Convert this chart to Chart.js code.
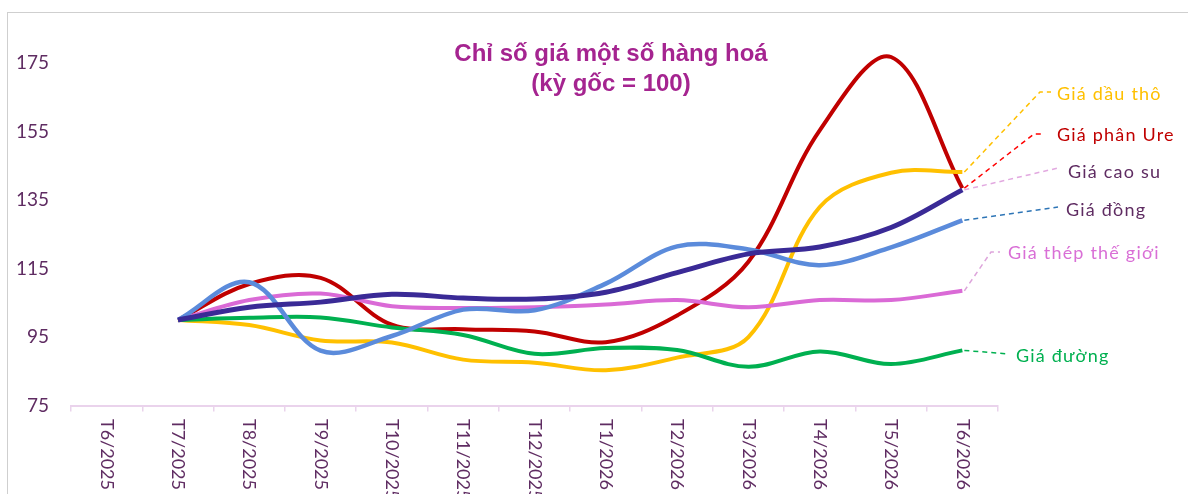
<!DOCTYPE html>
<html>
<head>
<meta charset="utf-8">
<script src="https://cdn.jsdelivr.net/npm/chart.js@4.4.1/dist/chart.umd.min.js"></script>
<style>
  html, body { margin: 0; padding: 0; background: #fff; }
  #wrap { position: relative; width: 1188px; height: 494px; overflow: hidden; }
  #frame { position: absolute; left: 7px; top: 12px; width: 1300px; height: 600px; border: 1px solid #cfcfcf; }
  #chart { position: absolute; left: 0; top: 0; }
</style>
</head>
<body>
<div id="wrap">
  <div id="frame"></div>
  <canvas id="chart" width="1188" height="494"></canvas>
</div>
<script>
// Chỉ số giá một số hàng hoá (kỳ gốc = 100)
const months = ['T6/2025', 'T7/2025', 'T8/2025', 'T9/2025', 'T10/2025', 'T11/2025', 'T12/2025',
  'T1/2026', 'T2/2026', 'T3/2026', 'T4/2026', 'T5/2026', 'T6/2026'];
const yTicks = [75, 95, 115, 135, 155, 175];

const giaCaoSu = [null, 100, 103.7, 105.2, 107.5, 106.4, 106.1, 108.1, 113.8, 119.3, 121.3, 127.0, 138.0];
const giaDong = [null, 100, 111.0, 91.0, 95.3, 103.0, 102.8, 110.6, 121.5, 120.6, 116.0, 121.2, 129.1];
const giaThep = [null, 100, 105.8, 107.7, 104.0, 103.5, 103.7, 104.5, 105.8, 103.7, 105.8, 105.8, 108.5];
const giaDuong = [null, 100, 100.6, 100.7, 97.8, 95.6, 90.1, 91.8, 91.2, 86.3, 90.8, 87.1, 91.1];
const giaDauTho = [null, 100, 98.5, 94.0, 93.4, 88.4, 87.5, 85.3, 89.0, 95.0, 133.0, 143.0, 143.2];
const giaPhanUre = [null, 100, 110.5, 112.3, 98.6, 97.3, 96.6, 93.5, 101.3, 117.0, 155.4, 176.8, 138.5];

const tickColor = '#5F2C62';

// right-hand labels, with the bend points of their dashed leaders
const seriesLabels = [
  { ds: 4, text: 'Giá dầu thô', color: '#FFC000', lead: '#FFC000', x: 1057, y: 94, path: [[1040, 92], [1051, 92]] },
  { ds: 5, text: 'Giá phân Ure', color: '#C00000', lead: '#FF0000', x: 1057, y: 135, path: [[1034, 134], [1042, 134]] },
  { ds: 0, text: 'Giá cao su', color: tickColor, lead: '#E2A9E0', x: 1068, y: 172, path: [[1058, 168]] },
  { ds: 1, text: 'Giá đồng', color: tickColor, lead: '#2E75B6', x: 1066, y: 210, path: [[1058, 207]] },
  { ds: 2, text: 'Giá thép thế giới', color: '#D96FD6', lead: '#DDA4DB', x: 1008, y: 253, path: [[991, 252], [1000, 252]] },
  { ds: 3, text: 'Giá đường', color: '#00B050', lead: '#00B050', x: 1016, y: 356, path: [[1008, 354]] }
];

const decorPlugin = {
  id: 'decor',
  afterDraw(chart) {
    const ctx = chart.ctx;
    const xScale = chart.scales.x;

    // rotated month labels (read top to bottom)
    ctx.save();
    ctx.fillStyle = tickColor;
    ctx.font = '18px Lato';
    ctx.textAlign = 'left';
    ctx.textBaseline = 'middle';
    months.forEach((m, i) => {
      const x = xScale.getPixelForValue(i);
      ctx.save();
      ctx.translate(x, 419);
      ctx.rotate(Math.PI / 2);
      ctx.fillText(m, 0, 0);
      ctx.restore();
    });
    ctx.restore();

    // title
    ctx.save();
    ctx.fillStyle = '#A52490';
    ctx.font = 'bold 24px "Liberation Sans", Arial, sans-serif';
    ctx.textAlign = 'center';
    ctx.textBaseline = 'middle';
    ctx.fillText('Chỉ số giá một số hàng hoá', 611, 54);
    ctx.fillText('(kỳ gốc = 100)', 611, 84);
    ctx.restore();

    // leaders + series names
    seriesLabels.forEach(l => {
      const pts = chart.getDatasetMeta(l.ds).data;
      const end = pts[pts.length - 1];
      ctx.save();
      ctx.strokeStyle = l.lead;
      ctx.lineWidth = 1.5;
      ctx.setLineDash([5, 4]);
      ctx.beginPath();
      ctx.moveTo(end.x + 2, end.y);
      l.path.forEach(p => ctx.lineTo(p[0], p[1]));
      ctx.stroke();
      ctx.restore();

      ctx.save();
      ctx.fillStyle = l.color;
      ctx.font = '18px Lato';
      ctx.letterSpacing = '1.2px';
      ctx.textAlign = 'left';
      ctx.textBaseline = 'middle';
      ctx.fillText(l.text, l.x, l.y);
      ctx.restore();
    });
  }
};

function line(label, data, color, width) {
  return {
    label: label,
    data: data,
    borderColor: color,
    backgroundColor: color,
    borderWidth: width,
    pointRadius: 0,
    tension: 0.35,
    fill: false
  };
}

new Chart(document.getElementById('chart'), {
  type: 'line',
  data: {
    labels: months,
    datasets: [
      line('Giá cao su', giaCaoSu, '#3A2A96', 5),
      line('Giá đồng', giaDong, '#5B8BDB', 4.5),
      line('Giá thép thế giới', giaThep, '#DA6AD6', 4),
      line('Giá đường', giaDuong, '#00B050', 4),
      line('Giá dầu thô', giaDauTho, '#FFC000', 4),
      line('Giá phân Ure', giaPhanUre, '#C00000', 4)
    ]
  },
  options: {
    responsive: false,
    animation: false,
    layout: { padding: { top: 25, right: 190, left: 0, bottom: 0 } },
    plugins: {
      legend: { display: false },
      tooltip: { enabled: false }
    },
    scales: {
      x: {
        offset: true,
        grid: {
          offset: true,
          drawOnChartArea: false,
          drawTicks: true,
          tickLength: 6,
          color: '#EAD3EC',
          lineWidth: 1.5
        },
        border: { display: true, color: '#EAD3EC', width: 2 },
        ticks: { display: false },
        afterFit: (scale) => { scale.height = 88.5; }
      },
      y: {
        min: 75,
        max: 183.7,
        grid: { display: false, drawTicks: false },
        border: { display: false },
        ticks: {
          color: tickColor,
          font: { family: 'Lato', size: 19 },
          padding: 22
        },
        afterBuildTicks: (scale) => { scale.ticks = yTicks.map(v => ({ value: v })); },
        afterFit: (scale) => { scale.width = 71; }
      }
    }
  },
  plugins: [decorPlugin]
});
</script>
</body>
</html>
